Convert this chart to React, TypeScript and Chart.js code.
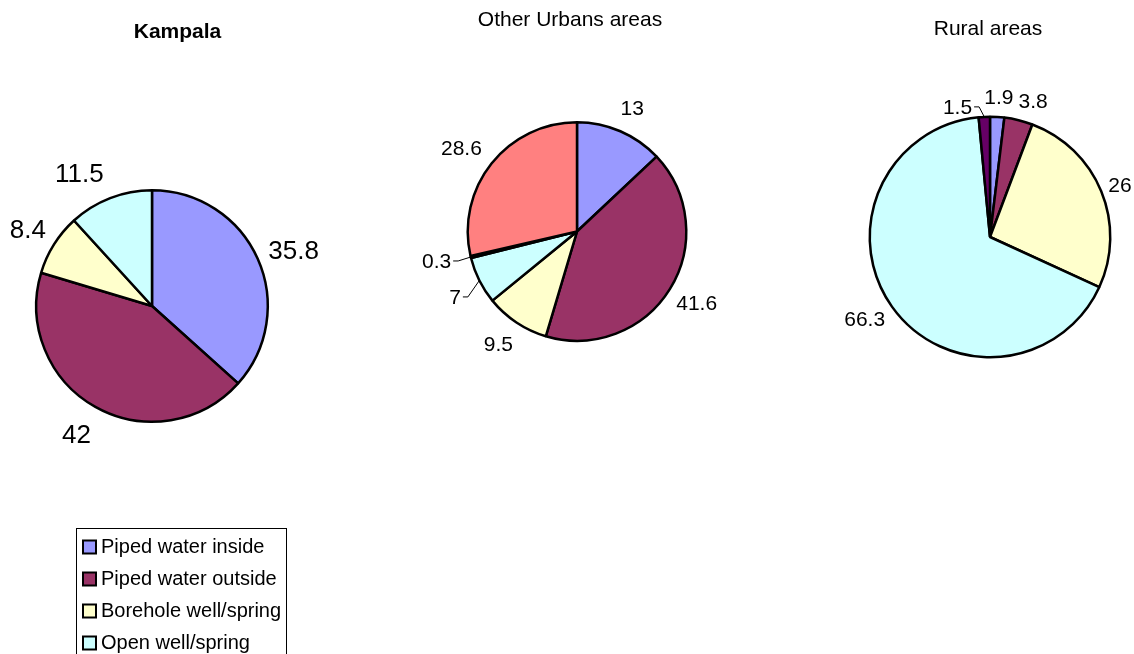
import React, { useEffect, useRef } from "react";
import { Chart, registerables } from "chart.js";

Chart.register(...registerables);

// Household sources of drinking water (%), by area
const categories = [
  "Piped water inside",
  "Piped water outside",
  "Borehole well/spring",
  "Open well/spring",
  "River/lake",
  "Other",
];
const sliceColors = ["#9999FF", "#993366", "#FFFFCC", "#CCFFFF", "#660066", "#FF8080"];

const kampalaValues: (number | null)[] = [35.8, 42, 8.4, 11.5, null, null];
const otherUrbanValues: (number | null)[] = [13, 41.6, 9.5, 7, 0.3, 28.6];
const ruralValues: (number | null)[] = [1.9, 3.8, 26, 66.3, 1.5, null];

const panelTitles = ["Kampala", "Other Urbans areas", "Rural areas"];

const PAGE_W = 1134;
const PAGE_H = 654;
const FONT = "'Liberation Sans', Arial, Helvetica, sans-serif";

type Panel = {
  title: string;
  bold: boolean;
  values: (number | null)[];
  titleX: number;
  titleBaseline: number;
  area: { left: number; top: number; size: number };
  labelSize: number;
  labelPad: number;
  nudges: Record<number, [number, number]>;
  leaders: number[];
  legend: boolean;
};

const panels: Panel[] = [
  {
    title: panelTitles[0],
    bold: true,
    values: kampalaValues,
    titleX: 177.5,
    titleBaseline: 37.5,
    area: { left: 35, top: 189, size: 234 },
    labelSize: 26,
    labelPad: 14,
    nudges: { 1: [-5, 6], 2: [1, -3], 3: [-17, -4] },
    leaders: [],
    legend: true,
  },
  {
    title: panelTitles[1],
    bold: false,
    values: otherUrbanValues,
    titleX: 570,
    titleBaseline: 25.5,
    area: { left: 466.5, top: 121, size: 221 },
    labelSize: 21,
    labelPad: 18,
    nudges: { 1: [-6, 0], 3: [-3, 5], 4: [-2.5, -2] },
    leaders: [3, 4],
    legend: false,
  },
  {
    title: panelTitles[2],
    bold: false,
    values: ruralValues,
    titleX: 988,
    titleBaseline: 35.3,
    area: { left: 868.5, top: 115.5, size: 243 },
    labelSize: 21,
    labelPad: 13,
    nudges: { 1: [8, 0], 2: [-4, 1], 4: [-25.5, 10.5] },
    leaders: [4],
    legend: false,
  },
];

// Value labels, leader lines, panel title and (for the first panel) the legend box
function decorPlugin(panel: Panel) {
  return {
    id: "panelDecor",
    afterDatasetsDraw(chart: any) {
      const ctx: CanvasRenderingContext2D = chart.ctx;
      const meta = chart.getDatasetMeta(0);
      ctx.save();
      ctx.fillStyle = "#000";
      ctx.strokeStyle = "#000";

      // slice value labels
      ctx.font = `${panel.labelSize}px ${FONT}`;
      ctx.textAlign = "center";
      ctx.textBaseline = "alphabetic";
      const capH = panel.labelSize * 0.716;
      meta.data.forEach((arc: any, i: number) => {
        const v = panel.values[i];
        if (v == null) return;
        const { x, y, startAngle, endAngle, outerRadius } = arc.getProps(
          ["x", "y", "startAngle", "endAngle", "outerRadius"],
          true
        );
        const mid = (startAngle + endAngle) / 2;
        const dx = Math.cos(mid);
        const dy = Math.sin(mid);
        const text = String(v);
        const w = ctx.measureText(text).width;
        const rr = outerRadius + panel.labelPad;
        const [nx, ny] = panel.nudges[i] || [0, 0];
        const cx = x + dx * rr + (dx * w) / 2 + nx;
        const cy = y + dy * rr + (dy * capH) / 2 + ny;
        ctx.fillText(text, cx, cy + capH / 2);
        if (panel.leaders.includes(i)) {
          const ex = x + dx * outerRadius;
          const ey = y + dy * outerRadius;
          const side = ex > cx ? 1 : -1;
          const sx = cx + side * (w / 2 + 2);
          ctx.lineWidth = 1;
          ctx.beginPath();
          ctx.moveTo(sx, cy);
          ctx.lineTo(sx + side * 5, cy);
          ctx.lineTo(ex, ey);
          ctx.stroke();
        }
      });

      // panel title
      ctx.font = `${panel.bold ? "bold " : ""}21px ${FONT}`;
      ctx.textAlign = "center";
      ctx.fillText(panel.title, panel.titleX, panel.titleBaseline);

      // legend
      if (panel.legend) {
        const boxL = 76.5;
        const boxT = 528.5;
        const boxW = 210;
        const rowH = 32;
        const boxH = rowH * categories.length + 14;
        ctx.lineWidth = 1;
        ctx.strokeRect(boxL, boxT, boxW, boxH);
        ctx.font = `20px ${FONT}`;
        ctx.textAlign = "left";
        categories.forEach((name, i) => {
          const top = boxT + 12 + i * rowH;
          if (top > chart.height) return;
          ctx.fillStyle = sliceColors[i];
          ctx.fillRect(boxL + 6.5, top, 13, 13);
          ctx.lineWidth = 2;
          ctx.strokeStyle = "#000";
          ctx.strokeRect(boxL + 6.5, top, 13, 13);
          ctx.fillStyle = "#000";
          ctx.fillText(name, boxL + 24.5, top + 12);
        });
      }
      ctx.restore();
    },
  };
}

export default function App() {
  const refs = [
    useRef<HTMLCanvasElement>(null),
    useRef<HTMLCanvasElement>(null),
    useRef<HTMLCanvasElement>(null),
  ];

  useEffect(() => {
    const charts = panels.map((panel, idx) => {
      const canvas = refs[idx].current!;
      const { left, top, size } = panel.area;
      return new Chart(canvas, {
        type: "pie",
        data: {
          labels: categories,
          datasets: [
            {
              data: panel.values as any,
              backgroundColor: sliceColors,
              borderColor: "#000000",
              borderWidth: 2.5,
            },
          ],
        },
        options: {
          animation: false,
          responsive: false,
          maintainAspectRatio: false,
          events: [],
          layout: {
            padding: {
              left,
              top,
              right: PAGE_W - left - size,
              bottom: PAGE_H - top - size,
            },
          },
          plugins: {
            legend: { display: false },
            title: { display: false },
            tooltip: { enabled: false },
          },
        },
        plugins: [decorPlugin(panel)],
      });
    });
    return () => charts.forEach((c) => c.destroy());
  }, []);

  return (
    <div
      style={{
        position: "fixed",
        left: 0,
        top: 0,
        width: PAGE_W,
        height: PAGE_H,
        background: "#ffffff",
        overflow: "hidden",
      }}
    >
      {refs.map((r, i) => (
        <canvas
          key={i}
          ref={r}
          width={PAGE_W}
          height={PAGE_H}
          style={{ position: "absolute", left: 0, top: 0, width: PAGE_W, height: PAGE_H }}
        />
      ))}
    </div>
  );
}
